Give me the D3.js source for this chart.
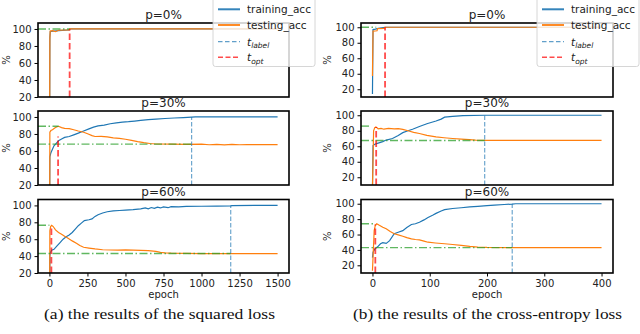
<!DOCTYPE html>
<html>
<head>
<meta charset="utf-8">
<script src="https://cdn.jsdelivr.net/npm/d3@7"></script>
<style>
  body { margin: 0; background: #fff; }
  svg { display: block; }
</style>
</head>
<body>
<div id="chart"></div>
<script>
// ---------- data ([epoch, accuracy %]) ----------
const titles = ["p=0%", "p=30%", "p=60%"];
const yTicks = [20, 40, 60, 80, 100];
const sqXTicks = [0, 250, 500, 750, 1000, 1250, 1500];
const ceXTicks = [0, 100, 200, 300, 400];

// squared loss
const sqTrain0 = [[0,5],[2,5],[3,90],[6,97],[60,98],[130,99],[135,100],[1500,100]];
const sqTest0 = [[0,5],[2,10],[3,88],[5,97.5],[20,98],[40,96.8],[60,98.5],[130,99],[133,100],[1500,100]];
const sqTrain30 = [[2,5],[3,53],[10,58],[20,62],[30,66],[45,69],[60,72],[80,74],[100,76],[130,77],[160,79],[190,81],
  [225,83.5],[260,86],[290,88],[320,89.5],[360,90.5],[400,92],[440,93],[480,94],[520,94.5],[560,95.2],[600,96],
  [650,96.8],[700,97.5],[760,98.2],[820,98.8],[880,99.3],[935,99.8],[960,100],[1500,100]];
const sqTest30 = [[2,5],[3,82],[10,84],[20,85],[35,87],[50,88.5],[60,89],[80,87.5],[100,86.5],[130,86.2],[160,85],
  [190,83.5],[225,82],[255,80],[280,78],[300,77],[340,77.2],[380,76.5],[420,75.5],[460,74.8],[500,73.8],[540,72.5],
  [580,71],[620,69.8],[660,68.8],[700,68.2],[800,68],[900,67.8],[1000,68],[1050,67.3],[1100,67.7],[1150,67.2],
  [1200,67.8],[1250,67.3],[1300,67.6],[1400,67.4],[1500,67.5]];
const sqTrain60 = [[2,5],[3,41],[8,45],[15,47],[30,48],[50,52],[70,56],[90,60],[110,63],[130,65],[150,68],[170,72],
  [190,76],[210,79],[230,82],[260,83],[280,84],[300,87],[320,89],[350,91],[380,92.5],[420,93.5],[460,94],[500,94.5],
  [550,95],[600,96],[630,97],[650,96],[670,97.5],[690,96.5],[710,98],[730,97],[750,98.2],[780,97.3],[800,98.5],
  [850,98.3],[900,98.8],[1000,99],[1100,99.2],[1192,99.5],[1200,99.8],[1350,100],[1500,100]];
const sqTest60 = [[2,5],[3,70],[8,75],[15,76.5],[25,75],[40,71],[60,68],[80,66],[100,63.5],[120,61.5],[150,58],
  [180,55],[200,52.5],[225,50.5],[260,49.5],[300,48.5],[350,47.5],[400,47.2],[450,47],[500,47.3],[550,47],
  [600,46.8],[650,46.5],[700,45.5],[730,44.5],[760,43.8],[800,43.5],[900,43.2],[1000,43],[1200,43],[1500,43]];

// cross-entropy loss
const ceTrain0 = [[0,14],[1,97],[5,97.5],[10,98.5],[22,100],[400,100]];
const ceTest0 = [[0,37],[1,95],[8,95.5],[9,98.3],[20,98.5],[22,100],[400,100]];
const ceTrain30 = [[0,5],[1,61],[4,62.6],[10,64],[18,66],[24,68],[35,70],[45,74],[53,77.6],[62,80],[70,82],
  [82,85.5],[95,89],[111,92.6],[120,95],[126,97.5],[140,98.5],[158,99.5],[196,100],[400,100]];
const ceTest30 = [[0,5],[2,80],[4,84],[6,85],[10,82.5],[15,83],[20,82],[28,83],[38,82.5],[45,82.8],[53,81.8],
  [62,80],[72,78],[82,76.5],[95,74],[111,72],[125,71],[140,70],[155,69.2],[169,68.5],[180,67.8],[200,67.5],[400,67.5]];
const ceTrain60 = [[0,30],[1,37],[4,41],[9,44],[14,48],[18,49.5],[24,48.5],[30,52],[38,61],[45,63],[53,65],[60,69],
  [68,73],[75,74],[82,76],[90,79],[97,82],[105,85],[111,87.5],[120,90.5],[126,92.3],[140,93.8],[155,94.8],
  [170,95.8],[184,96.6],[200,97.5],[213,98.3],[230,99],[244,99.6],[250,100],[400,100]];
const ceTest60 = [[0,13],[1,30],[3,65],[5,72],[7.5,74],[12,72],[18,69.5],[24,67.4],[31,64],[38,61],[45,59.5],
  [53,57.8],[60,56],[68,54.4],[75,53.5],[82,53],[90,51.5],[97,50],[110,49],[126,48],[140,47],[155,45.8],
  [170,44.5],[184,43.6],[200,43.2],[250,43],[400,43]];

// markers per panel (p=0, 30, 60)
const sqOpt = [133, 57, 13], sqOptTop = [100, 77, 75];
const sqLabel = [null, 935, 1192], sqLabelTop = [null, 100, 100];
const sqBest = [100, 89, 76.5], sqBestEnd = [133, 60, 0];
const sqLabelAcc = [null, 68, 43];
const ceOpt = [22, 6.5, 5], ceOptTop = [100, 85, 73];
const ceLabel = [null, 196, 244], ceLabelTop = [null, 100, 100];
const ceBest = [100, 86, 74], ceBestEnd = [6.5, -2, 3.5];
const ceLabelAcc = [null, 67.5, 43];

// ---------- drawing ----------
const WIDTH = 640, HEIGHT = 334;
const BLUE = "#1f77b4", ORANGE = "#ff7f0e", GREEN = "#2ca02c", RED = "#ff0000";
const FONT = "DejaVu Sans, sans-serif";
const ROWS = [[23, 97], [111, 185], [199.5, 273]];

const svg = d3.select("#chart").append("svg")
  .attr("width", WIDTH).attr("height", HEIGHT);

function drawColumn(cfg) {
  const x = d3.scaleLinear().domain(cfg.xDomain).range(cfg.xRange);
  const line = (y) => d3.line().x((d) => x(d[0])).y((d) => y(d[1]));

  cfg.panels.forEach((p, i) => {
    const [top, bottom] = ROWS[i];
    const y = d3.scaleLinear().domain(cfg.yDomain).range([bottom, top]);
    const g = svg.append("g");
    const clipId = `clip-${cfg.id}-${i}`;
    g.append("clipPath").attr("id", clipId).append("rect")
      .attr("x", cfg.xRange[0]).attr("y", top)
      .attr("width", cfg.xRange[1] - cfg.xRange[0]).attr("height", bottom - top);
    const plot = g.append("g").attr("clip-path", `url(#${clipId})`);

    plot.append("path").datum(p.train)
      .attr("fill", "none").attr("stroke", BLUE).attr("stroke-width", 1.2)
      .attr("d", line(y));
    plot.append("path").datum(p.test)
      .attr("fill", "none").attr("stroke", ORANGE).attr("stroke-width", 1.2)
      .attr("d", line(y));

    // best test acc / test acc at t_label
    plot.append("line")
      .attr("x1", cfg.xRange[0]).attr("x2", x(p.bestEnd))
      .attr("y1", y(p.best)).attr("y2", y(p.best))
      .attr("stroke", GREEN).attr("stroke-width", 1.4).attr("opacity", 0.75)
      .attr("stroke-dasharray", "8,2.5,1.5,2.5");
    if (p.label != null) {
      plot.append("line")
        .attr("x1", cfg.xRange[0]).attr("x2", x(p.label))
        .attr("y1", y(p.labelAcc)).attr("y2", y(p.labelAcc))
        .attr("stroke", GREEN).attr("stroke-width", 1.4).attr("opacity", 0.75)
        .attr("stroke-dasharray", "8,2.5,1.5,2.5");
      plot.append("line")
        .attr("x1", x(p.label)).attr("x2", x(p.label))
        .attr("y1", bottom).attr("y2", y(p.labelTop))
        .attr("stroke", BLUE).attr("stroke-width", 1.1).attr("opacity", 0.7)
        .attr("stroke-dasharray", "4.5,2");
    }
    plot.append("line")
      .attr("x1", x(p.opt)).attr("x2", x(p.opt))
      .attr("y1", bottom).attr("y2", y(p.optTop))
      .attr("stroke", RED).attr("stroke-width", 1.8).attr("opacity", 0.7)
      .attr("stroke-dasharray", "6.5,3");

    // y axis
    const ya = g.append("g").attr("transform", `translate(${cfg.xRange[0]},0)`)
      .call(d3.axisLeft(y).tickValues(yTicks).tickSize(3.5).tickPadding(3));
    ya.select(".domain").remove();
    ya.selectAll("text").style("font-family", FONT).style("font-size", "10px").attr("fill", "#222");

    if (i === 2) {
      const xa = g.append("g").attr("transform", `translate(0,${bottom})`)
        .call(d3.axisBottom(x).tickValues(cfg.xTicks).tickFormat(d3.format("d"))
          .tickSize(3.5).tickPadding(3));
      xa.select(".domain").remove();
      xa.selectAll("text").style("font-family", FONT).style("font-size", "10px").attr("fill", "#222");
      g.append("text")
        .attr("x", (cfg.xRange[0] + cfg.xRange[1]) / 2).attr("y", 298)
        .attr("text-anchor", "middle")
        .style("font-family", FONT).style("font-size", "10px").attr("fill", "#222")
        .text("epoch");
    }

    // frame
    g.append("rect")
      .attr("x", cfg.xRange[0]).attr("y", top)
      .attr("width", cfg.xRange[1] - cfg.xRange[0]).attr("height", bottom - top)
      .attr("fill", "none").attr("stroke", "#000").attr("stroke-width", 1.6);

    g.append("text")
      .attr("x", (cfg.xRange[0] + cfg.xRange[1]) / 2).attr("y", top - 4)
      .attr("text-anchor", "middle")
      .style("font-family", FONT).style("font-size", "12px").attr("fill", "#222")
      .text(titles[i]);

    g.append("text")
      .attr("transform", `translate(${cfg.ylabelX},${(top + bottom) / 2}) rotate(-90)`)
      .attr("text-anchor", "middle")
      .style("font-family", FONT).style("font-size", "10px").attr("fill", "#222")
      .text("%");
  });

  // legend
  const lg = svg.append("g").attr("transform", `translate(${cfg.legendX},0)`);
  lg.append("rect")
    .attr("x", 0).attr("y", -4).attr("width", 102).attr("height", 70.5).attr("rx", 2.5)
    .attr("fill", "#fff").attr("fill-opacity", 0.8)
    .attr("stroke", "#ccc").attr("stroke-width", 0.8);
  const items = [
    { color: BLUE, dash: null, width: 2, op: 0.9, label: "training_acc" },
    { color: ORANGE, dash: null, width: 2, op: 0.9, label: "testing_acc" },
    { color: BLUE, dash: "4.5,2.5", width: 1.3, op: 0.7, label: ["t", "label"] },
    { color: RED, dash: "5,2.5", width: 1.5, op: 0.7, label: ["t", "opt"] }
  ];
  const rowY = [9.3, 25, 41.7, 57.3];
  items.forEach((it, k) => {
    lg.append("line")
      .attr("x1", 5).attr("x2", 27).attr("y1", rowY[k]).attr("y2", rowY[k])
      .attr("stroke", it.color).attr("stroke-width", it.width).attr("opacity", it.op)
      .attr("stroke-dasharray", it.dash);
    const t = lg.append("text")
      .attr("x", 34).attr("y", rowY[k] + 3.8)
      .style("font-family", FONT).style("font-size", "10.5px").attr("fill", "#222");
    if (Array.isArray(it.label)) {
      t.append("tspan").style("font-style", "italic").text(it.label[0]);
      t.append("tspan").style("font-style", "italic").style("font-size", "7.5px")
        .attr("dy", 2.5).text(it.label[1]);
    } else {
      t.text(it.label);
    }
  });

  // caption (reference text is a little wider than the serif font gives)
  svg.append("text")
    .attr("x", cfg.captionX).attr("y", 319)
    .attr("textLength", cfg.captionW).attr("lengthAdjust", "spacingAndGlyphs")
    .style("font-family", "Liberation Serif, Times New Roman, serif").style("font-size", "15px")
    .attr("fill", "#111")
    .text(cfg.caption);
}

const mk = (train, test, opt, optTop, label, labelTop, best, bestEnd, labelAcc) =>
  train.map((t, i) => ({
    train: t, test: test[i], opt: opt[i], optTop: optTop[i], label: label[i],
    labelTop: labelTop[i], best: best[i], bestEnd: bestEnd[i], labelAcc: labelAcc[i]
  }));

drawColumn({
  id: "sq", xDomain: [-75, 1575], xRange: [38, 289], yDomain: [20, 107], xTicks: sqXTicks,
  ylabelX: 9.5, legendX: 213, caption: "(a) the results of the squared loss",
  captionX: 44, captionW: 231,
  panels: mk([sqTrain0, sqTrain30, sqTrain60], [sqTest0, sqTest30, sqTest60],
    sqOpt, sqOptTop, sqLabel, sqLabelTop, sqBest, sqBestEnd, sqLabelAcc)
});

drawColumn({
  id: "ce", xDomain: [-20, 420], xRange: [361, 613], yDomain: [10, 105.5], xTicks: ceXTicks,
  ylabelX: 331, legendX: 537, caption: "(b) the results of the cross-entropy loss",
  captionX: 353, captionW: 269,
  panels: mk([ceTrain0, ceTrain30, ceTrain60], [ceTest0, ceTest30, ceTest60],
    ceOpt, ceOptTop, ceLabel, ceLabelTop, ceBest, ceBestEnd, ceLabelAcc)
});
</script>
</body>
</html>
